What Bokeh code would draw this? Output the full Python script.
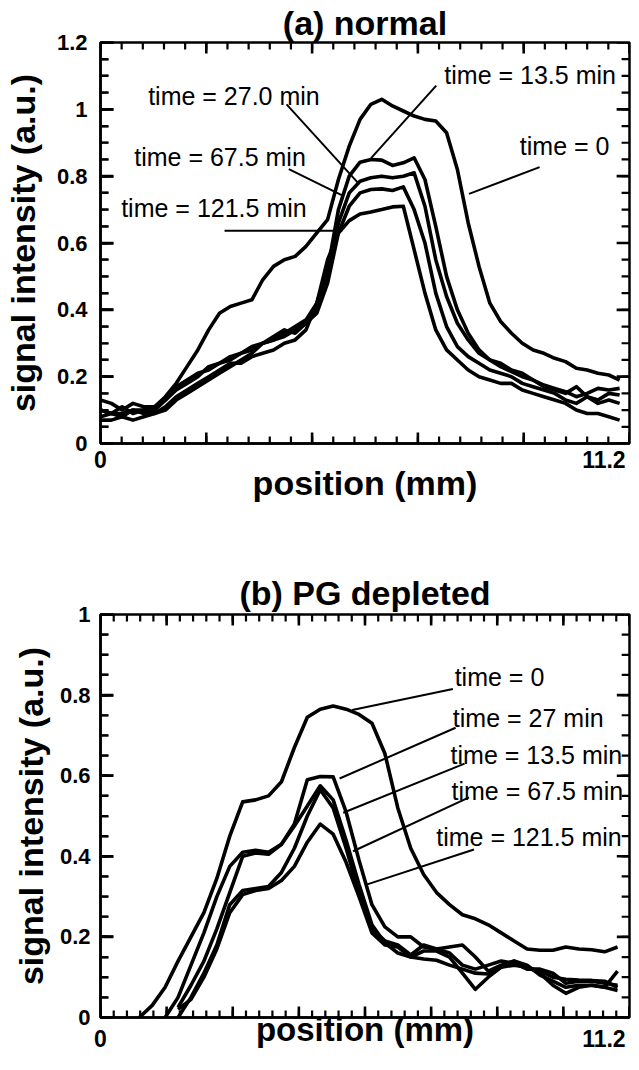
from bokeh.plotting import figure
from bokeh.layouts import column
from bokeh.models import LinearAxis, FixedTicker, Range1d, ColumnDataSource
from bokeh.core.properties import value
from bokeh.embed import file_html
from bokeh.resources import INLINE

NA = float("nan")
FONT = "Liberation Sans"

# ---------------- data: panel (a) normal ----------------
pos_a = [round(i * 11.55 / 48, 4) for i in range(49)]
a_t0 = [0.10, 0.09, 0.09, 0.10, 0.10, 0.11, 0.14, 0.18, 0.23, 0.28,
        0.34, 0.39, 0.41, 0.42, 0.43, 0.49, 0.53, 0.55, 0.56, 0.59,
        0.63, 0.67, 0.79, 0.89, 0.97, 1.015, 1.03, 1.01, 0.995, 0.98,
        0.97, 0.965, 0.93, 0.82, 0.66, 0.53, 0.42, 0.365, 0.33, 0.30,
        0.28, 0.27, 0.255, 0.245, 0.225, 0.22, 0.21, 0.205, 0.19]
a_t135 = [0.08, 0.09, 0.08, 0.10, 0.09, 0.10, 0.13, 0.17, 0.19, 0.21,
          0.22, 0.24, 0.25, 0.27, 0.29, 0.30, 0.31, 0.33, 0.35, 0.37,
          0.42, 0.52, 0.70, 0.80, 0.842, 0.85, 0.848, 0.832, 0.84, 0.855,
          0.79, 0.65, 0.50, 0.40, 0.33, 0.28, 0.25, 0.23, 0.215, 0.20,
          0.19, 0.175, 0.165, 0.155, 0.14, 0.15, 0.165, 0.16, 0.165]
a_t27 = [0.13, 0.12, 0.10, 0.12, 0.11, 0.11, 0.13, 0.16, 0.18, 0.20,
         0.23, 0.24, 0.26, 0.27, 0.28, 0.30, 0.32, 0.34, 0.33, 0.36,
         0.40, 0.50, 0.66, 0.75, 0.785, 0.795, 0.80, 0.795, 0.80, 0.81,
         0.71, 0.55, 0.44, 0.36, 0.31, 0.27, 0.25, 0.24, 0.22, 0.21,
         0.19, 0.17, 0.16, 0.15, 0.17, 0.14, 0.13, 0.15, 0.145]
a_t675 = [0.07, 0.07, 0.08, 0.07, 0.08, 0.09, 0.10, 0.13, 0.15, 0.17,
          0.19, 0.21, 0.23, 0.25, 0.27, 0.30, 0.31, 0.32, 0.34, 0.36,
          0.39, 0.48, 0.63, 0.71, 0.75, 0.76, 0.762, 0.757, 0.768, 0.70,
          0.60, 0.45, 0.35, 0.29, 0.26, 0.24, 0.22, 0.21, 0.20, 0.18,
          0.17, 0.16, 0.15, 0.13, 0.12, 0.14, 0.12, 0.13, 0.12]
a_t1215 = [0.10, 0.09, 0.11, 0.09, 0.10, 0.09, 0.11, 0.14, 0.16, 0.18,
           0.20, 0.22, 0.24, 0.24, 0.26, 0.27, 0.28, 0.30, 0.31, 0.34,
           0.42, 0.55, 0.63, 0.667, 0.687, 0.693, 0.70, 0.708, 0.71, 0.58,
           0.45, 0.34, 0.28, 0.25, 0.22, 0.20, 0.19, 0.18, 0.18, 0.16,
           0.15, 0.14, 0.13, 0.12, 0.10, 0.09, 0.09, 0.08, 0.07]

# ---------------- data: panel (b) PG depleted ----------------
pos_b = [round(i * 0.2876, 4) for i in range(41)]
b_t0 = [NA, NA, NA, 0.0, 0.03, 0.075, 0.14, 0.20, 0.26, 0.345,
        0.45, 0.535, 0.54, 0.55, 0.585, 0.67, 0.745, 0.765, 0.773, 0.765,
        0.752, 0.73, 0.655, 0.52, 0.42, 0.355, 0.31, 0.28, 0.255, 0.245,
        0.23, 0.21, 0.19, 0.17, 0.167, 0.167, 0.175, 0.17, 0.168, 0.163, 0.175]
b_t27 = [NA, NA, NA, NA, NA, 0.0, 0.05, 0.13, 0.21, 0.30,
         0.375, 0.41, 0.415, 0.41, 0.43, 0.48, 0.59, 0.598, 0.597, 0.51,
         0.39, 0.28, 0.225, 0.20, 0.20, 0.175, 0.17, 0.16, 0.13, 0.12,
         0.13, 0.14, 0.135, 0.12, 0.12, 0.11, 0.085, 0.09, 0.09, 0.085, 0.08]
b_t135 = [NA, NA, NA, NA, NA, NA, 0.025, 0.08, 0.14, 0.22,
          0.31, 0.40, 0.408, 0.405, 0.43, 0.475, 0.525, 0.575, 0.54, 0.44,
          0.33, 0.23, 0.185, 0.16, 0.15, 0.165, 0.165, 0.15, 0.11, 0.07,
          0.10, 0.125, 0.13, 0.125, 0.11, 0.08, 0.06, 0.075, 0.08, 0.075, 0.067]
b_t675 = [NA, NA, NA, NA, NA, NA, 0.0, 0.05, 0.11, 0.18,
          0.28, 0.315, 0.32, 0.325, 0.36, 0.42, 0.50, 0.565, 0.52, 0.42,
          0.31, 0.22, 0.19, 0.18, 0.155, 0.18, 0.17, 0.175, 0.18, 0.15,
          0.115, 0.13, 0.14, 0.13, 0.105, 0.09, 0.075, 0.08, 0.08, 0.075, 0.115]
b_t1215 = [NA, NA, NA, NA, NA, NA, 0.02, 0.045, 0.10, 0.17,
           0.26, 0.305, 0.315, 0.32, 0.34, 0.375, 0.435, 0.48, 0.455, 0.385,
           0.30, 0.21, 0.18, 0.175, 0.15, 0.145, 0.142, 0.13, 0.12, 0.11,
           0.108, 0.125, 0.14, 0.125, 0.115, 0.10, 0.095, 0.093, 0.092, 0.09, 0.075]

# ---------------- ticks / labels ----------------
a_yticks = [0, 0.2, 0.4, 0.6, 0.8, 1, 1.2]
b_yticks = [0, 0.2, 0.4, 0.6, 0.8, 1]
x_tick_vals = [0, 11.2]
x_tick_text = {0: "0", 11.2: "11.2"}

# annotation texts, their anchors and the leader lines
a_notes = ["time = 13.5 min", "time = 27.0 min", "time = 67.5 min", "time = 121.5 min", "time = 0"]
a_note_x = [7.65, 1.06, 0.75, 0.46, 9.33]
a_note_y = [1.104, 1.039, 0.857, 0.705, 0.89]
a_lead_x0 = [7.47, 4.14, 4.19, 2.76, 9.77]
a_lead_y0 = [1.071, 1.015, 0.821, 0.637, 0.827]
a_lead_x1 = [6.02, 5.75, 5.40, 5.38, 8.20]
a_lead_y1 = [0.854, 0.777, 0.741, 0.637, 0.747]

b_notes = ["time = 0", "time = 27 min", "time = 13.5 min", "time = 67.5 min", "time = 121.5 min"]
b_note_x = [7.88, 7.84, 7.79, 7.81, 7.47]
b_note_y = [0.844, 0.743, 0.652, 0.563, 0.447]
b_lead_x0 = [7.84, 7.90, 8.10, 8.20, 8.31]
b_lead_y0 = [0.815, 0.719, 0.630, 0.546, 0.417]
b_lead_x1 = [5.60, 5.32, 5.40, 5.62, 5.90]
b_lead_y1 = [0.763, 0.593, 0.508, 0.4125, 0.329]

XMAX = 11.77
FIG_W = 631
MB_RIGHT = 2


def make_panel(title, height, xpos, series, ymax, yticks, n_major,
               notes, nx, ny, lx0, ly0, lx1, ly1,
               mb_left, mb_top, mb_bottom, title_standoff, ylab_standoff,
               ytick_standoff, xtick_standoff, xlab_standoff, xlab_size):
    p = figure(width=FIG_W, height=height, x_range=Range1d(0, XMAX), y_range=Range1d(0, ymax),
               output_backend="svg", toolbar_location=None,
               x_axis_location=None, y_axis_location=None,
               min_border_left=mb_left, min_border_right=MB_RIGHT,
               min_border_top=mb_top, min_border_bottom=mb_bottom,
               title=title)
    p.grid.visible = False
    p.outline_line_color = "black"
    p.outline_line_width = 2.5
    p.background_fill_color = "white"
    p.border_fill_color = "white"

    p.title.text_font = FONT
    p.title.text_font_size = "34px"
    p.title.text_font_style = "bold"
    p.title.align = "center"
    p.title.standoff = title_standoff
    p.title.text_color = "black"

    yminor = [round(k * 0.05, 2) for k in range(int(round(ymax / 0.05)) + 1)]
    step = XMAX / n_major
    xmaj = [round(k * step, 4) for k in range(n_major + 1)]
    xmin = [round(k * step / 5, 4) for k in range(5 * n_major + 1)]

    left = LinearAxis(ticker=FixedTicker(ticks=yticks, minor_ticks=yminor),
                      axis_label="signal intensity (a.u.)",
                      major_label_overrides={0: "0", 1: "1"})
    left.axis_line_width = 2.5
    left.axis_line_color = "black"
    left.major_tick_in = 13
    left.major_tick_out = 0
    left.minor_tick_in = 8
    left.minor_tick_out = 0
    left.major_tick_line_width = 2.6
    left.minor_tick_line_width = 2.2
    left.major_tick_line_color = "black"
    left.minor_tick_line_color = "black"
    left.major_label_text_font = FONT
    left.major_label_text_font_size = "22px"
    left.major_label_text_font_style = "bold"
    left.major_label_text_color = "black"
    left.major_label_standoff = ytick_standoff
    left.axis_label_text_font = FONT
    left.axis_label_text_font_size = "34px"
    left.axis_label_text_font_style = "bold"
    left.axis_label_text_color = "black"
    left.axis_label_standoff = ylab_standoff
    p.add_layout(left, "left")

    below = LinearAxis(ticker=FixedTicker(ticks=x_tick_vals, minor_ticks=[]),
                       axis_label="position (mm)",
                       major_label_overrides=x_tick_text)
    below.major_tick_in = 0
    below.major_tick_out = 0
    below.minor_tick_in = 0
    below.minor_tick_out = 0
    below.major_tick_line_color = None
    below.minor_tick_line_color = None
    below.axis_line_width = 2.5
    below.axis_line_color = "black"
    below.major_label_text_font = FONT
    below.major_label_text_font_size = "23px"
    below.major_label_text_font_style = "bold"
    below.major_label_text_color = "black"
    below.major_label_standoff = xtick_standoff
    below.axis_label_text_font = FONT
    below.axis_label_text_font_size = xlab_size
    below.axis_label_text_font_style = "bold"
    below.axis_label_text_color = "black"
    below.axis_label_standoff = xlab_standoff
    p.add_layout(below, "below")

    # inward tick marks on all four sides of the box (lengths converted from pixels)
    fw = FIG_W - mb_left - MB_RIGHT
    fh = height - mb_top - mb_bottom
    px_x = XMAX / fw
    px_y = ymax / fh

    tick_xs, tick_ys, tick_w = [], [], []
    for vals, length, w in ((yminor, 8, 2.2), (yticks, 13, 2.6)):
        for v in vals:
            tick_xs += [[0.0, length * px_x], [XMAX, XMAX - length * px_x]]
            tick_ys += [[v, v], [v, v]]
            tick_w += [w, w]
    for vals, length, w in ((xmin, 7, 2.2), (xmaj, 11, 2.6)):
        for v in vals:
            tick_xs += [[v, v], [v, v]]
            tick_ys += [[0.0, length * px_y], [ymax, ymax - length * px_y]]
            tick_w += [w, w]
    tsrc = ColumnDataSource(dict(xs=tick_xs, ys=tick_ys, w=tick_w))
    p.multi_line(xs="xs", ys="ys", line_width="w", line_color="black", source=tsrc)

    for ys in series:
        p.line(xpos, ys, line_color="black", line_width=3.6, line_join="round")

    p.segment(x0=lx0, y0=ly0, x1=lx1, y1=ly1, line_color="black", line_width=2)
    src = ColumnDataSource(dict(x=nx, y=ny, t=notes))
    p.text(x="x", y="y", text="t", source=src, text_font=value(FONT),
           text_font_size="25px", text_baseline="middle", text_align="left",
           text_color="black")
    return p


p1 = make_panel("(a) normal", 560, pos_a, [a_t0, a_t135, a_t27, a_t675, a_t1215], 1.2, a_yticks, 5,
                a_notes, a_note_x, a_note_y, a_lead_x0, a_lead_y0, a_lead_x1, a_lead_y1,
                mb_left=95, mb_top=39, mb_bottom=117, title_standoff=2, ylab_standoff=12,
                ytick_standoff=13, xtick_standoff=7, xlab_standoff=-7, xlab_size="34px")

p2 = make_panel("(b) PG depleted", 494, pos_b, [b_t0, b_t27, b_t135, b_t675, b_t1215], 1.0, b_yticks, 8,
                b_notes, b_note_x, b_note_y, b_lead_x0, b_lead_y0, b_lead_x1, b_lead_y1,
                mb_left=87, mb_top=54, mb_bottom=37, title_standoff=6, ylab_standoff=7,
                ytick_standoff=10, xtick_standoff=12, xlab_standoff=-39, xlab_size="33px")

layout = column(p1, p2)
open("out.html", "w").write(file_html(layout, INLINE))
